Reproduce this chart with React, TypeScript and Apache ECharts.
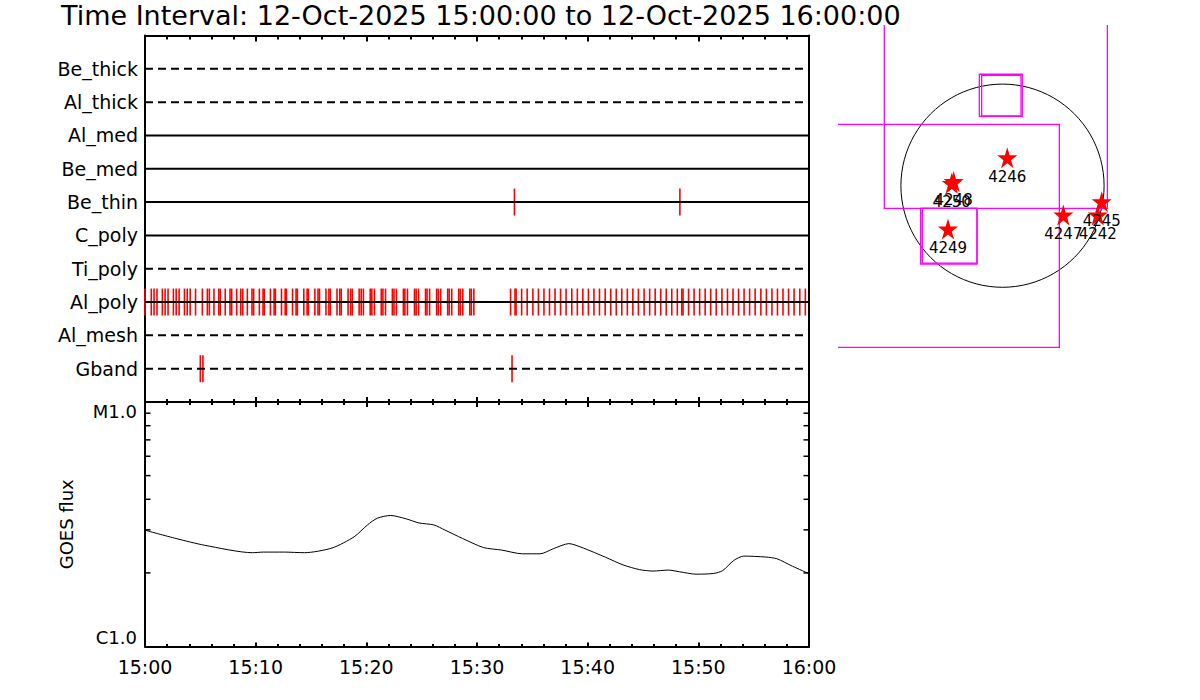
import React, { useEffect, useRef } from 'react';
import * as echarts from 'echarts';

const FONT = 'DejaVu Sans';

// ---------- Top panel (filter / attenuator states) ----------
// row value 1..10, bottom to top
const ROW_NAMES = ['Gband', 'Al_mesh', 'Al_poly', 'Ti_poly', 'C_poly', 'Be_thin', 'Be_med', 'Al_med', 'Al_thick', 'Be_thick'];
const ROW_DASHED = [true, true, false, true, false, false, false, false, true, true];

// event times, seconds after 15:00:00
const GBAND_EVENTS = [300, 314, 1990];
const BE_THIN_EVENTS = [2003, 2900];
const AL_POLY_EVENTS = [
  0,
  34, 49, 65, 94, 109, 125, 154, 169, 185, 214, 229, 245, 274,
  311, 338, 349, 374, 400, 408, 435, 461, 470, 497, 519, 530,
  555, 580, 589, 620, 640, 647, 680, 700, 707, 740, 760, 767,
  800, 819, 826, 861, 879, 886, 921, 938, 946, 981, 997, 1005,
  1041, 1056, 1064, 1101, 1115, 1124, 1161, 1172, 1184,
  1221, 1230, 1244, 1281, 1290, 1304, 1341, 1350, 1363, 1401, 1409, 1423,
  1461, 1470, 1483, 1521, 1529, 1543, 1581, 1590, 1603, 1641, 1649, 1663,
  1701, 1710, 1723, 1761, 1769, 1783,
  1982, 2006, 2012, 2042, 2072, 2103, 2133, 2163, 2193, 2223, 2253, 2283, 2314, 2344,
  2374, 2404, 2434, 2464, 2495, 2525, 2555, 2585, 2615, 2645, 2675, 2706, 2736,
  2766, 2796, 2826, 2856, 2886, 2910, 2917, 2947, 2977, 3007, 3037, 3067, 3097,
  3128, 3158, 3188, 3218, 3248, 3278, 3308, 3339, 3369, 3399, 3429, 3459, 3489,
  3519, 3550, 3580,
];

// ---------- Bottom panel (GOES flux) ----------
const GOES_TIME_MIN = [0, 2.8, 5.4, 9.7, 10.7, 12.6, 14.4, 16.9, 18.9, 20.1, 21.0, 22.2, 23.6, 24.75, 26.1, 27.1, 28.7, 30.6, 32.2, 34.1, 35.7, 36.9, 38.3, 39.6, 41.6, 43.2, 44.7, 45.9, 47.3, 48.3, 49.8, 51.4, 52.2, 53.2, 54.1, 56.1, 57.1, 58.5, 60];
const GOES_FLUX = [2.99e-6, 2.765e-6, 2.594e-6, 2.419e-6, 2.433e-6, 2.433e-6, 2.419e-6, 2.528e-6, 2.81e-6, 3.142e-6, 3.349e-6, 3.435e-6, 3.327e-6, 3.202e-6, 3.142e-6, 2.995e-6, 2.765e-6, 2.538e-6, 2.481e-6, 2.394e-6, 2.394e-6, 2.512e-6, 2.635e-6, 2.528e-6, 2.319e-6, 2.156e-6, 2.062e-6, 2.035e-6, 2.054e-6, 2.021e-6, 1.976e-6, 1.99e-6, 2.043e-6, 2.248e-6, 2.343e-6, 2.322e-6, 2.285e-6, 2.13e-6, 1.986e-6];
const FLUX_TICK_VALUES = [1e-6, 1e-5];
const FLUX_TICK_LABELS = ['C1.0', 'M1.0'];
const FLUX_MINOR_TICKS = [2e-6, 3e-6, 4e-6, 5e-6, 6e-6, 7e-6, 8e-6, 9e-6];

// ---------- Solar map (arcsec) ----------
const LIMB_RADIUS = 960;
const AR_NAMES = ['4246', '4250', '4248', '4249', '4247', '4245', '4242'];
const AR_X = [45, -480, -462, -515, 575, 938, 900];
const AR_Y = [265, 22, 40, -409, -277, -151, -277];
// [x1, y1, x2, y2]
const FOV_RECTS = [
  [-1900, 580, 537, -1527],
  [-1117, 2000, 991, -214],
  [-219, 1053, 187, 656],
  [-197, 1042, 175, 659],
  [-773, -214, -241, -740],
  [-758, -214, -241, -731],
];

const STAR = 'path://M0,-10L2.245,-3.09L9.51,-3.09L3.633,1.18L5.88,8.09L0,3.82L-5.88,8.09L-3.633,1.18L-9.51,-3.09L-2.245,-3.09Z';

function timeLabel(v: number) {
  const h = 15 + Math.floor(v / 60);
  const m = Math.round(v % 60);
  return `${h}:${String(m).padStart(2, '0')}`;
}

function buildOption() {
  const events: number[][] = [];
  GBAND_EVENTS.forEach((s) => events.push([s / 60, ROW_NAMES.indexOf('Gband') + 1]));
  BE_THIN_EVENTS.forEach((s) => events.push([s / 60, ROW_NAMES.indexOf('Be_thin') + 1]));
  AL_POLY_EVENTS.forEach((s) => events.push([s / 60, ROW_NAMES.indexOf('Al_poly') + 1]));

  const rowSeries = ROW_NAMES.map((name, i) => ({
    type: 'line',
    name,
    xAxisIndex: 0,
    yAxisIndex: 0,
    data: [[0, i + 1], [60, i + 1]],
    symbol: 'none',
    silent: true,
    z: 5,
    lineStyle: { color: '#000', width: 2, type: ROW_DASHED[i] ? [8, 5] : 'solid' },
  }));

  const blackLine = { lineStyle: { color: '#000', width: 2 } };
  const timeAxisBase = {
    type: 'value',
    min: 0,
    max: 60,
    interval: 10,
    splitLine: { show: false },
    axisLine: { show: true, onZero: false, ...blackLine },
  };

  return {
    animation: false,
    backgroundColor: '#fff',
    title: {
      text: 'Time Interval: 12-Oct-2025 15:00:00 to 12-Oct-2025 16:00:00',
      left: 61,
      top: 2,
      padding: 0,
      textStyle: { fontFamily: FONT, fontSize: 27, fontWeight: 'normal', color: '#000' },
    },
    grid: [
      { left: 145, top: 35.5, width: 664, height: 366.5, outerBoundsMode: 'none' },
      { left: 145, top: 402, width: 664, height: 244.5, outerBoundsMode: 'none' },
      { left: 838, top: 25, width: 300, height: 330, outerBoundsMode: 'none' },
    ],
    xAxis: [
      {
        ...timeAxisBase, gridIndex: 0, position: 'bottom',
        axisLabel: { show: false },
        axisTick: { show: true, inside: true, length: 5, ...blackLine },
        minorTick: { show: true, splitNumber: 5, length: 3, ...blackLine },
      },
      {
        ...timeAxisBase, gridIndex: 0, position: 'top',
        axisLabel: { show: false },
        axisTick: { show: true, inside: true, length: 6, ...blackLine },
        minorTick: { show: true, splitNumber: 5, length: 4, ...blackLine },
      },
      {
        ...timeAxisBase, gridIndex: 1, position: 'bottom',
        axisLabel: { show: true, margin: 11, color: '#000', fontFamily: FONT, fontSize: 19, formatter: timeLabel },
        axisTick: { show: true, inside: true, length: 4, ...blackLine },
        minorTick: { show: true, splitNumber: 5, length: 2.5, ...blackLine },
      },
      {
        ...timeAxisBase, gridIndex: 1, position: 'top',
        axisLabel: { show: false },
        axisTick: { show: true, inside: true, length: 5, ...blackLine },
        minorTick: { show: true, splitNumber: 5, length: 3, ...blackLine },
      },
      { type: 'value', gridIndex: 2, min: -1554.4, max: 1280.4, show: false },
    ],
    yAxis: [
      {
        type: 'value', gridIndex: 0, position: 'left', min: 0, max: 11, interval: 1,
        splitLine: { show: false },
        axisTick: { show: false },
        axisLine: { show: true, onZero: false, ...blackLine },
        axisLabel: {
          show: true, margin: 7, color: '#000', fontFamily: FONT, fontSize: 19,
          formatter: (v: number) => (v >= 1 && v <= 10 ? ROW_NAMES[v - 1] : ''),
        },
      },
      {
        type: 'value', gridIndex: 0, position: 'right', min: 0, max: 11, interval: 1,
        splitLine: { show: false }, axisTick: { show: false }, axisLabel: { show: false },
        axisLine: { show: true, onZero: false, ...blackLine },
      },
      {
        type: 'log', logBase: 10, gridIndex: 1, position: 'left', min: 1e-6, max: 1e-5,
        splitLine: { show: false }, axisTick: { show: false }, minorTick: { show: false },
        axisLine: { show: true, onZero: false, ...blackLine },
        name: 'GOES flux', nameLocation: 'middle', nameGap: 70, nameRotate: 90,
        nameTextStyle: { color: '#000', fontFamily: FONT, fontSize: 18 },
        axisLabel: {
          show: true, margin: 8, color: '#000', fontFamily: FONT, fontSize: 18,
          verticalAlignMaxLabel: 'top', verticalAlignMinLabel: 'bottom',
          formatter: (v: number) => {
            for (let i = 0; i < FLUX_TICK_VALUES.length; i++) {
              if (Math.abs(Math.log10(v) - Math.log10(FLUX_TICK_VALUES[i])) < 0.01) return FLUX_TICK_LABELS[i];
            }
            return '';
          },
        },
      },
      {
        type: 'log', logBase: 10, gridIndex: 1, position: 'right', min: 1e-6, max: 1e-5,
        splitLine: { show: false }, axisTick: { show: false }, axisLabel: { show: false }, minorTick: { show: false },
        axisLine: { show: true, onZero: false, ...blackLine },
      },
      { type: 'value', gridIndex: 2, min: -1599.8, max: 1518.5, show: false },
    ],
    series: [
      {
        type: 'custom',
        name: 'events',
        xAxisIndex: 0,
        yAxisIndex: 0,
        z: 3,
        silent: true,
        data: events,
        renderItem: (_p: any, api: any) => {
          const pt = api.coord([api.value(0), api.value(1)]);
          return {
            type: 'line',
            shape: { x1: pt[0], y1: pt[1] - 13.5, x2: pt[0], y2: pt[1] + 13.5 },
            style: { stroke: '#ff0000', lineWidth: 1.6 },
          };
        },
      },
      ...rowSeries,
      {
        type: 'line',
        name: 'GOES',
        xAxisIndex: 2,
        yAxisIndex: 2,
        data: GOES_TIME_MIN.map((t, i) => [t, GOES_FLUX[i]]),
        symbol: 'none',
        smooth: 0.25,
        silent: true,
        lineStyle: { color: '#000', width: 1 },
      },
      {
        type: 'custom',
        name: 'fluxTicks',
        xAxisIndex: 2,
        yAxisIndex: 2,
        silent: true,
        data: FLUX_MINOR_TICKS.map((v) => [0, v]),
        renderItem: (_p: any, api: any) => {
          const v = api.value(1);
          const pl = api.coord([0, v]);
          const pr = api.coord([60, v]);
          return {
            type: 'group',
            children: [
              { type: 'line', shape: { x1: pl[0], y1: pl[1], x2: pl[0] + 5.5, y2: pl[1] }, style: { stroke: '#000', lineWidth: 1.5 } },
              { type: 'line', shape: { x1: pr[0] - 5.5, y1: pr[1], x2: pr[0], y2: pr[1] }, style: { stroke: '#000', lineWidth: 1.5 } },
            ],
          };
        },
      },
      {
        type: 'custom',
        name: 'limb',
        xAxisIndex: 4,
        yAxisIndex: 4,
        silent: true,
        clip: true,
        data: [[0, 0, LIMB_RADIUS]],
        renderItem: (_p: any, api: any) => {
          const c = api.coord([api.value(0), api.value(1)]);
          const r = api.size([api.value(2), 0])[0];
          return { type: 'circle', shape: { cx: c[0], cy: c[1], r }, style: { fill: 'none', stroke: '#000', lineWidth: 1 } };
        },
      },
      {
        type: 'custom',
        name: 'fov',
        xAxisIndex: 4,
        yAxisIndex: 4,
        silent: true,
        clip: true,
        encode: { x: [0, 2], y: [1, 3] },
        data: FOV_RECTS,
        renderItem: (_p: any, api: any) => {
          const a = api.coord([api.value(0), api.value(1)]);
          const b = api.coord([api.value(2), api.value(3)]);
          return {
            type: 'rect',
            shape: { x: Math.min(a[0], b[0]), y: Math.min(a[1], b[1]), width: Math.abs(b[0] - a[0]), height: Math.abs(b[1] - a[1]) },
            style: { fill: 'none', stroke: '#ff00ff', lineWidth: 1.3 },
          };
        },
      },
      {
        type: 'scatter',
        name: 'AR',
        xAxisIndex: 4,
        yAxisIndex: 4,
        silent: true,
        symbol: STAR,
        symbolSize: [20, 21],
        z: 10,
        itemStyle: { color: '#ff0000', opacity: 1 },
        label: {
          show: true, position: 'bottom', distance: 1, color: '#000', opacity: 1, fontFamily: FONT, fontSize: 15,
          formatter: (p: any) => p.name,
        },
        data: AR_NAMES.map((n, i) => ({ name: n, value: [AR_X[i], AR_Y[i]] })),
      },
    ],
  };
}

export default function App() {
  const ref = useRef<HTMLDivElement>(null);
  useEffect(() => {
    if (!ref.current) return;
    const chart = echarts.init(ref.current, undefined, { renderer: 'svg' });
    chart.setOption(buildOption() as any);
    return () => chart.dispose();
  }, []);
  return (
    <div
      ref={ref}
      style={{ position: 'fixed', left: 0, top: 0, width: 1200, height: 700, background: '#fff' }}
    />
  );
}
